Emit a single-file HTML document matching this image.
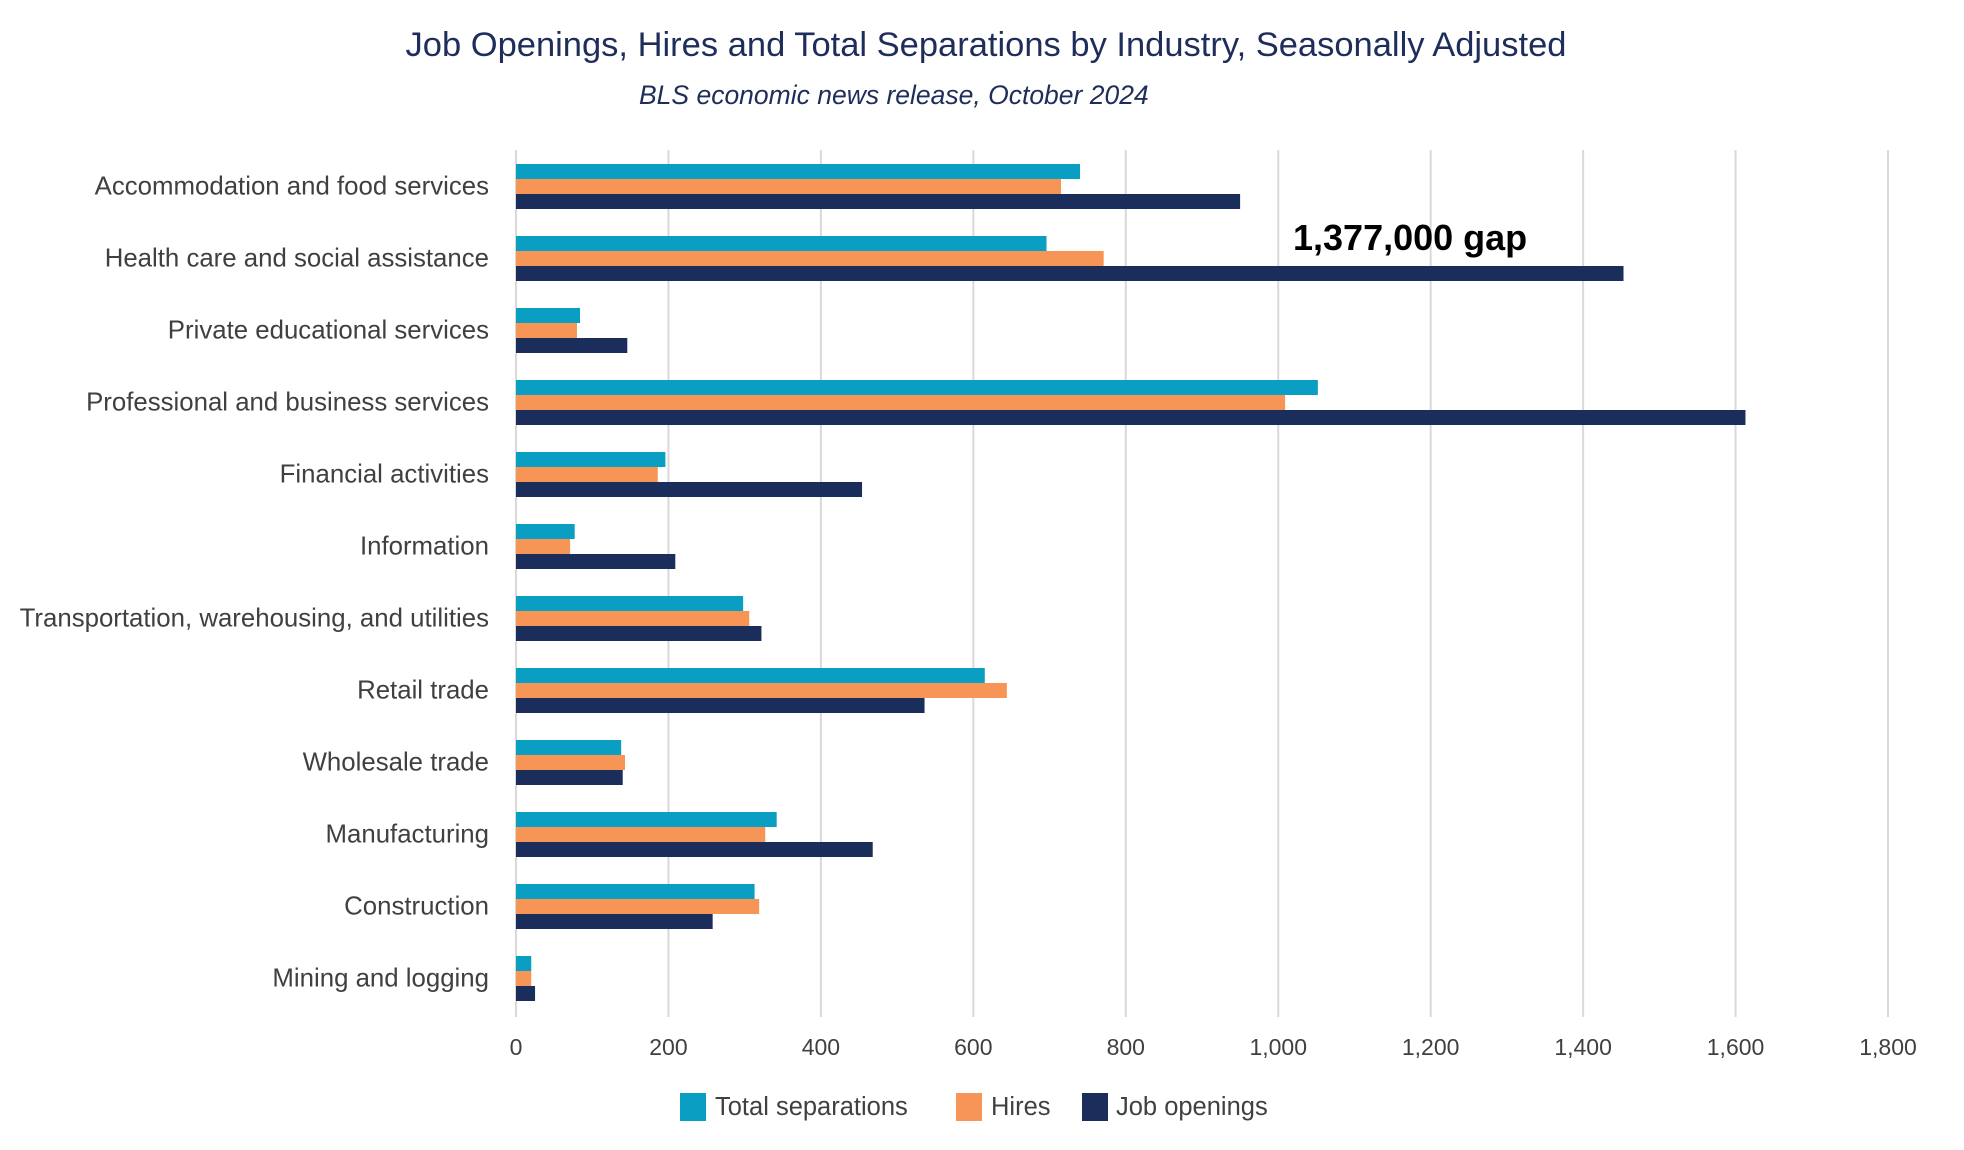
<!DOCTYPE html>
<html><head><meta charset="utf-8"><style>
body{margin:0;background:#fff;}
svg{display:block;font-family:"Liberation Sans",sans-serif;}
</style></head><body>
<svg id="chart" width="1964" height="1150" viewBox="0 0 1964 1150">
<text x="986" y="56" text-anchor="middle" font-size="34.5" fill="#1f2d5a">Job Openings, Hires and Total Separations by Industry, Seasonally Adjusted</text>
<text x="639" y="104" font-size="26.5" font-style="italic" fill="#1f2d5a">BLS economic news release, October 2024</text>
<g id="grid"></g><g id="bars"></g><g id="labels"></g>
<text x="1293" y="250" font-size="36" font-weight="bold" fill="#000">1,377,000 gap</text>
<g>
<rect x="680" y="1093" width="26" height="28" fill="#0a9ec2"/>
<text x="715" y="1115" font-size="25.5" fill="#404040">Total separations</text>
<rect x="956" y="1093" width="26" height="28" fill="#f79556"/>
<text x="991" y="1115" font-size="25.5" fill="#404040">Hires</text>
<rect x="1082" y="1093" width="26" height="28" fill="#1b2d5a"/>
<text x="1116" y="1115" font-size="25.5" fill="#404040">Job openings</text>
</g>
</svg>
<script>
const categories=["Accommodation and food services","Health care and social assistance","Private educational services","Professional and business services","Financial activities","Information","Transportation, warehousing, and utilities","Retail trade","Wholesale trade","Manufacturing","Construction","Mining and logging"];
const separations=[740,696,84,1052,196,77,298,615,138,342,313,20];
const hires=[715,771,80,1009,186,71,306,644,143,327,319,20];
const openings=[950,1453,146,1613,454,209,322,536,140,468,258,25];
const ticks=[0,200,400,600,800,1000,1200,1400,1600,1800];
const tickLabels=["0","200","400","600","800","1,000","1,200","1,400","1,600","1,800"];
const NS="http://www.w3.org/2000/svg";
const x0=516,xs=1372/1800,top0=164,step=72,bh=15;
const xp=v=>x0+v*xs;
const grid=document.getElementById('grid'),bars=document.getElementById('bars'),labels=document.getElementById('labels');
ticks.forEach((t,i)=>{
 const l=document.createElementNS(NS,'line');
 l.setAttribute('x1',xp(t));l.setAttribute('x2',xp(t));l.setAttribute('y1',150);l.setAttribute('y2',1017);
 l.setAttribute('stroke','#d9d9d9');l.setAttribute('stroke-width','2');
 
 
 grid.appendChild(l);
 const tx=document.createElementNS(NS,'text');
 tx.setAttribute('x',xp(t));tx.setAttribute('y',1055);tx.setAttribute('text-anchor','middle');
 tx.setAttribute('font-size','23');tx.setAttribute('fill','#404040');tx.textContent=tickLabels[i];
 
 
 labels.appendChild(tx);
});
const series=[[separations,'#0a9ec2','separations'],[hires,'#f79556','hires'],[openings,'#1b2d5a','openings']];
categories.forEach((c,i)=>{
 const y=top0+i*step;
 series.forEach((s,j)=>{
  const r=document.createElementNS(NS,'rect');
  r.setAttribute('x',x0);r.setAttribute('y',y+j*bh);r.setAttribute('width',Math.max(0,xp(s[0][i])-x0));r.setAttribute('height',bh);
  r.setAttribute('fill',s[1]);
  
  
  bars.appendChild(r);
 });
 const tx=document.createElementNS(NS,'text');
 tx.setAttribute('x',489);tx.setAttribute('y',y+bh*1.5+8);tx.setAttribute('text-anchor','end');
 tx.setAttribute('font-size','25.8');tx.setAttribute('fill','#404040');tx.textContent=c;
 
 
 labels.appendChild(tx);
});
</script>
</body></html>
